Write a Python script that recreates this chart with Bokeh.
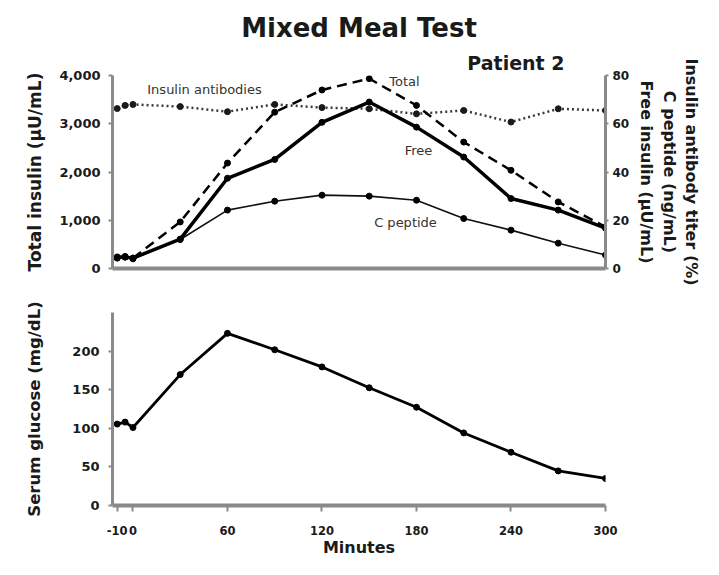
from bokeh.plotting import figure
from bokeh.layouts import column
from bokeh.models import Range1d, LinearAxis, Label, Title, FixedTicker, NumeralTickFormatter
from bokeh.embed import file_html
from bokeh.resources import INLINE

# ---------------- data ----------------
minutes = [-10, -5, 0, 30, 60, 90, 120, 150, 180, 210, 240, 270, 300]
total_insulin = [215, 235, 215, 965, 2185, 3240, 3700, 3935, 3380, 2620, 2035, 1380, 860]      # µU/mL (left axis)
free_insulin = [4.8, 4.8, 4.3, 12.2, 37.4, 45.2, 60.6, 69.0, 58.6, 46.2, 29.0, 24.2, 16.7]     # µU/mL (right axis)
c_peptide = [4.5, 5.0, 4.0, 12.0, 24.2, 27.9, 30.4, 30.0, 28.3, 20.7, 15.9, 10.5, 5.6]         # ng/mL (right axis)
antibody_titer = [66.3, 67.6, 68.0, 67.1, 65.0, 68.0, 66.7, 66.2, 64.1, 65.5, 60.7, 66.2, 65.5]  # % (right axis)
glucose = [105.5, 108, 101, 169.6, 223, 201.7, 179.5, 152.5, 127.3, 94, 69, 44.8, 35]          # mg/dL

x_ticks = [-10, 0, 60, 120, 180, 240, 300]
left_ticks = [0, 1000, 2000, 3000, 4000]
right_ticks = [0, 20, 40, 60, 80]
glucose_ticks = [0, 50, 100, 150, 200]

# ---------------- layout constants ----------------
W = 703
X0, X1 = -13, 300
TOP_H, BOT_H = 298, 261
FL, FR = 112, 95           # frame borders (px)
FT, FB = 75, 268           # top frame edges (px from figure top)
AX = "#8a8a8a"
TXT = "#1a1a1a"
FONT = "DejaVu Sans"
x_range = Range1d(X0, X1)

def style_axis(ax, size="13px", standoff=6, tick_out=4):
    ax.axis_line_color = AX
    ax.axis_line_width = 3
    ax.major_tick_line_color = AX
    ax.major_tick_line_width = 2
    ax.major_tick_out = tick_out
    ax.major_tick_in = 0
    ax.minor_tick_line_color = None
    ax.major_label_text_font = FONT
    ax.major_label_text_font_style = "bold"
    ax.major_label_text_font_size = size
    ax.major_label_text_color = TXT
    ax.major_label_standoff = standoff

def style_label(ax, text, size, standoff):
    ax.axis_label = text
    ax.axis_label_text_font = FONT
    ax.axis_label_text_font_style = "bold"
    ax.axis_label_text_font_size = size
    ax.axis_label_text_color = TXT
    ax.axis_label_standoff = standoff

# ---------------- top figure ----------------
p = figure(width=W, height=TOP_H, x_range=x_range, y_range=Range1d(0, 4000),
           output_backend="svg", toolbar_location=None,
           min_border_left=FL, min_border_right=FR, min_border_top=FT,
           min_border_bottom=TOP_H - FB)
p.extra_y_ranges = {"right": Range1d(0, 80)}
p.outline_line_color = None
p.grid.visible = False

p.title.text = "Mixed Meal Test"
p.title.align = "center"
p.title.text_font = FONT
p.title.text_font_style = "bold"
p.title.text_font_size = "26px"
p.title.text_color = TXT
p.title.standoff = 10

p.add_layout(Title(text="Patient 2", align="right", offset=41, text_font=FONT,
                   text_font_style="bold", text_font_size="19px", text_color=TXT,
                   standoff=4), "above")

p.xaxis.ticker = FixedTicker(ticks=[])
p.xaxis.major_label_text_font_size = "0px"
p.xaxis.axis_line_color = AX
p.xaxis.axis_line_width = 4
p.xaxis.major_tick_line_color = None
p.xaxis.minor_tick_line_color = None

style_axis(p.yaxis[0], standoff=8)
p.yaxis.ticker = FixedTicker(ticks=left_ticks)
p.yaxis.formatter = NumeralTickFormatter(format="0,0")
style_label(p.yaxis[0], "Total insulin (µU/mL)", "17px", 11)

ra = LinearAxis(y_range_name="right", ticker=FixedTicker(ticks=right_ticks))
style_axis(ra, size="12px", standoff=4, tick_out=3)
style_label(ra, "Free insulin (µU/mL)", "16px", 5)
p.add_layout(ra, "right")

def label_axis(text, standoff):
    ax = LinearAxis(y_range_name="right", ticker=FixedTicker(ticks=[]))
    ax.axis_line_color = None
    ax.major_tick_line_color = None
    ax.minor_tick_line_color = None
    ax.major_tick_out = 0
    ax.major_tick_in = 0
    ax.major_label_standoff = 0
    style_label(ax, text, "16px", standoff)
    p.add_layout(ax, "right")

label_axis("C peptide (ng/mL)", 0)
label_axis("Insulin antibody titer (%)", 0)

# series
p.line(minutes, antibody_titer, y_range_name="right", line_color="#3a3a3a", line_width=2.5, line_dash="2 3")
p.scatter(minutes, antibody_titer, y_range_name="right", size=6, color="#1a1a1a")

p.line(minutes, total_insulin, line_color="black", line_width=2.5, line_dash="10 6")
p.scatter(minutes, total_insulin, size=6, color="black")

p.line(minutes, c_peptide, y_range_name="right", line_color="#111111", line_width=1.6)
p.scatter(minutes, c_peptide, y_range_name="right", size=6, color="black")

p.line(minutes, free_insulin, y_range_name="right", line_color="black", line_width=3.5)
p.scatter(minutes, free_insulin, y_range_name="right", size=6, color="black")

# in-plot annotations, placed in screen units relative to the frame (x from left, y up from bottom)
def add_text(px, py, txt, size="13px", color="#333333"):
    p.add_layout(Label(x=px - FL, y=FB - py, x_units="screen", y_units="screen",
                       text=txt, text_align="center", text_baseline="middle",
                       text_font=FONT, text_font_size=size, text_color=color))

add_text(204, 89, "Insulin antibodies")
add_text(404, 81, "Total")
add_text(418, 150, "Free")
add_text(405, 222, "C peptide")

# ---------------- bottom figure ----------------
q = figure(width=W, height=BOT_H, x_range=x_range, y_range=Range1d(0, 250),
           output_backend="svg", toolbar_location=None,
           min_border_left=FL, min_border_right=FR, min_border_top=14, min_border_bottom=52)
q.outline_line_color = None
q.grid.visible = False

style_axis(q.xaxis[0], size="11.5px", standoff=14, tick_out=6)
q.xaxis.axis_line_width = 4
q.xaxis.ticker = FixedTicker(ticks=x_ticks)
q.xaxis.major_label_overrides = {-10: "-10"}
style_label(q.xaxis[0], "Minutes", "16px", 0)

style_axis(q.yaxis[0], standoff=9)
q.yaxis.ticker = FixedTicker(ticks=glucose_ticks)
style_label(q.yaxis[0], "Serum glucose (mg/dL)", "16.5px", 25)

q.line(minutes, glucose, line_color="black", line_width=2.8)
q.scatter(minutes, glucose, size=6, color="black")

layout = column(p, q, spacing=0)
open("out.html", "w").write(file_html(layout, INLINE))
